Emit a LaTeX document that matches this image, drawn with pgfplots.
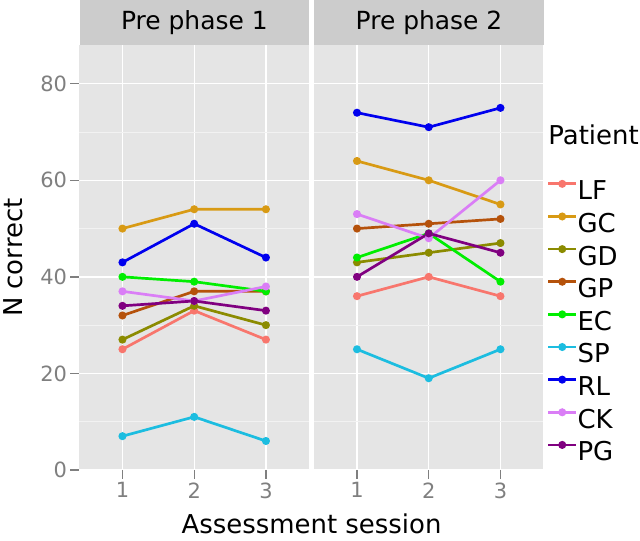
\documentclass[border=0pt]{standalone}
\usepackage{fontspec}
\setmainfont{DejaVu Sans}
\usepackage{pgfplots}
\pgfplotsset{compat=1.18}

\definecolor{g90}{HTML}{E5E5E5}
\definecolor{g80}{HTML}{CCCCCC}
\definecolor{g50}{HTML}{7F7F7F}
\definecolor{g95}{HTML}{F2F2F2}
\definecolor{cLF}{HTML}{F8766D}
\definecolor{cGC}{HTML}{D89A14}
\definecolor{cGD}{HTML}{8B8B00}
\definecolor{cGP}{HTML}{B5520B}
\definecolor{cEC}{HTML}{00EE00}
\definecolor{cSP}{HTML}{1CBDE0}
\definecolor{cRL}{HTML}{0000EE}
\definecolor{cCK}{HTML}{DA7EF6}
\definecolor{cPG}{HTML}{800080}

\pgfplotsset{
  facet/.style={
    scale only axis,
    width=230bp, height=425.7bp,
    xmin=0.4, xmax=3.6, ymin=0, ymax=88,
    xtick={1,2,3}, ytick={0,20,...,80},
    minor ytick={10,30,50,70},
    grid=both,
    major grid style={white, line width=1.3bp},
    minor grid style={g95, line width=0.6bp},
    axis background/.style={fill=g90},
    axis line style={draw=none},
    tick align=outside,
    xtick pos=bottom, ytick pos=left,
    major tick length=9bp,
    tick style={g50, line width=1.3bp},
    minor tick length=0pt,
    /pgf/number format/assume math mode=true,
    ticklabel style={font=\fontsize{21bp}{24bp}\selectfont, text=g50},
    every axis plot/.append style={line width=2.7bp, mark=*, mark size=2.6bp},
  },
  pLF/.style={cLF}, pGC/.style={cGC}, pGD/.style={cGD},
  pGP/.style={cGP}, pEC/.style={cEC}, pSP/.style={cSP},
  pRL/.style={cRL}, pCK/.style={cCK}, pPG/.style={cPG},
}

\begin{document}
\begin{tikzpicture}
\path (0,0) rectangle (640bp,541bp);

% panel 1
\begin{axis}[facet, at={(78.3bp,70.3bp)}, anchor=south west]
  \addplot[pLF] coordinates {(1,25) (2,33) (3,27)};
  \addplot[pGC] coordinates {(1,50) (2,54) (3,54)};
  \addplot[pGD] coordinates {(1,27) (2,34) (3,30)};
  \addplot[pGP] coordinates {(1,32) (2,37) (3,37)};
  \addplot[pEC] coordinates {(1,40) (2,39) (3,37)};
  \addplot[pSP] coordinates {(1,7) (2,11) (3,6)};
  \addplot[pRL] coordinates {(1,43) (2,51) (3,44)};
  \addplot[pCK] coordinates {(1,37) (2,35) (3,38)};
  \addplot[pPG] coordinates {(1,34) (2,35) (3,33)};
\end{axis}

% panel 2
\begin{axis}[facet, at={(313.3bp,70.3bp)}, anchor=south west,
  yticklabels={}, ytick style={draw=none},
  legend style={at={(1.014,0.681)}, anchor=north west, draw=none, fill=none,
    inner sep=0pt, row sep=8.7bp,
    font=\fontsize{26bp}{30bp}\selectfont,
    nodes={inner sep=0pt, text height=19bp, text depth=5bp},
    /tikz/every even column/.append style={column sep=7bp}},
  legend cell align=left,
  legend image code/.code={
    \draw[#1, mark repeat=2, mark phase=2] plot coordinates {(0bp,9bp) (14bp,9bp) (28bp,9bp)};
  }]
  \addplot[pLF] coordinates {(1,36) (2,40) (3,36)}; \addlegendentry{LF}
  \addplot[pGC] coordinates {(1,64) (2,60) (3,55)}; \addlegendentry{GC}
  \addplot[pGD] coordinates {(1,43) (2,45) (3,47)}; \addlegendentry{GD}
  \addplot[pGP] coordinates {(1,50) (2,51) (3,52)}; \addlegendentry{GP}
  \addplot[pEC] coordinates {(1,44) (2,49) (3,39)}; \addlegendentry{EC}
  \addplot[pSP] coordinates {(1,25) (2,19) (3,25)}; \addlegendentry{SP}
  \addplot[pRL] coordinates {(1,74) (2,71) (3,75)}; \addlegendentry{RL}
  \addplot[pCK] coordinates {(1,53) (2,48) (3,60)}; \addlegendentry{CK}
  \addplot[pPG] coordinates {(1,40) (2,49) (3,45)}; \addlegendentry{PG}
\end{axis}

% strips
\node[fill=g80, minimum width=230bp, minimum height=45bp, inner sep=0pt, anchor=south west,
  font=\fontsize{25bp}{29bp}\selectfont] at (78.3bp,496bp) {Pre phase 1};
\node[fill=g80, minimum width=230.2bp, minimum height=45bp, inner sep=0pt, anchor=south west,
  font=\fontsize{25bp}{29bp}\selectfont] at (313.3bp,496bp) {Pre phase 2};

% axis titles and legend title
\node[font=\fontsize{26bp}{30bp}\selectfont, anchor=base] at (310.9bp,6.5bp) {Assessment session};
\node[font=\fontsize{26bp}{30bp}\selectfont, rotate=90, anchor=base] at (21bp,283bp) {N correct};
\node[font=\fontsize{26bp}{30bp}\selectfont, anchor=base west, inner sep=0pt] at (548bp,396bp) {Patient};
\end{tikzpicture}
\end{document}
